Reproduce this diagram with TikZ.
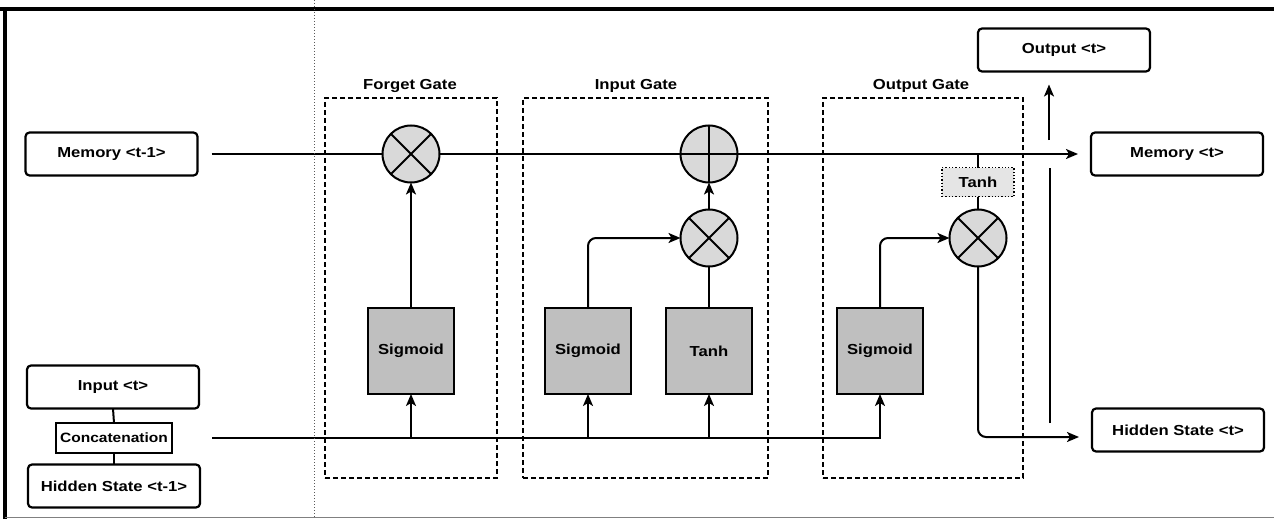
\documentclass[tikz,border=0pt]{standalone}
\usepackage{fontspec}
\setmainfont{Liberation Sans}[FakeStretch=1.15]
\usetikzlibrary{arrows.meta,backgrounds,calc}
\begin{document}
\begin{tikzpicture}[x=1pt,y=-1pt,
  every node/.style={outer sep=0pt, inner sep=0pt},
  io/.style={draw, rounded corners=4pt, line width=2.2pt, minimum width=172pt, minimum height=43pt, font=\fontsize{14.5pt}{16pt}\selectfont\bfseries},
  catbox/.style={draw, line width=1.8pt, minimum width=116pt, minimum height=30pt, font=\fontsize{13.5pt}{15pt}\selectfont\bfseries},
  act/.style={draw, fill=gray!50, line width=1.5pt, minimum width=86pt, minimum height=86pt, font=\fontsize{14.5pt}{16pt}\selectfont\bfseries},
  opnode/.style={circle, draw, fill=gray!30, line width=2pt, minimum size=57pt},
  tanhbox/.style={draw, dotted, fill=gray!20, line width=1.3pt, minimum width=72pt, minimum height=29pt, font=\fontsize{14.5pt}{16pt}\selectfont\bfseries},
  gframe/.style={draw, dash pattern=on 5pt off 3pt, line width=1.8pt},
  glabel/.style={font=\fontsize{14.5pt}{16pt}\selectfont\bfseries},
  plain/.style={line width=2pt},
  conn/.style={line width=2pt, -{Stealth[length=12pt,width=10pt,inset=3pt]}},
  opline/.style={line width=2pt}
]
\useasboundingbox (0,0) rectangle (1274,519);

% scan frame
\draw[line width=3.5pt] (0,9) -- (1274,9);
\draw[line width=3.5pt] (5,9) -- (5,519);
\draw[line width=0.8pt, gray] (5,517.5) -- (1274,517.5);
\draw[line width=1pt, dotted, gray!70!black] (314,0) -- (314,519);

% gate frames
\node[gframe, minimum width=172pt, minimum height=380pt] (fg) at (411,288) {};
\node[gframe, minimum width=245pt, minimum height=380pt] (ig) at (645.5,288) {};
\node[gframe, minimum width=200pt, minimum height=380pt] (og) at (923,288) {};
\node[glabel] (fgl) at (410,86) {Forget Gate};
\node[glabel] (igl) at (636,86) {Input Gate};
\node[glabel] (ogl) at (921,86) {Output Gate};

% io boxes
\node[io] (mem0) at (111.5,154) {Memory <t-1>};
\node[io] (inp) at (113,387) {Input <t>};
\node[catbox] (cat) at (114,438) {Concatenation};
\node[io] (hid0) at (114,486) {Hidden State <t-1>};
\node[io] (out) at (1064,50) {Output <t>};
\node[io] (mem1) at (1177,154) {Memory <t>};
\node[io] (hid1) at (1178,430) {Hidden State <t>};

% activations
\node[act] (fs) at (411,351) {Sigmoid};
\node[act] (is) at (588,351) {Sigmoid};
\node[act] (it) at (709,351) {Tanh};
\node[act] (os) at (880,351) {Sigmoid};

% operators
\node[opnode] (fx) at (411,154) {};
\node[opnode] (ip) at (709,154) {};
\node[opnode] (ix) at (709,238) {};
\node[opnode] (ox) at (978,238) {};
\node[tanhbox] (ot) at (978,182) {Tanh};

\foreach \n in {fx,ix,ox}
  \draw[opline] (\n.north east) -- (\n.south west) (\n.north west) -- (\n.south east);
\draw[opline] (ip.north) -- (ip.south) (ip.west) -- (ip.east);

\coordinate (vb) at (1050,423);
\coordinate (vt) at (1050,168);
\coordinate (ab) at (1049,140);

\begin{scope}[on background layer]
  % memory line
  \draw[conn, shorten <=14pt, shorten >=13pt] (mem0.east) -- (mem1.west);
  % left stack
  \draw[plain] (inp.south) -- (cat.north);
  \draw[plain] (cat.south) -- (hid0.north);
  % input line
  \draw[conn, shorten <=40pt] (cat.east) -- (os.south |- cat.east) -- (os.south);
  \draw[conn] (fs.south |- cat.east) -- (fs.south);
  \draw[conn] (is.south |- cat.east) -- (is.south);
  \draw[conn] (it.south |- cat.east) -- (it.south);
  % forget gate
  \draw[conn] (fs.north) -- (fx.south);
  % input gate
  \draw[conn, rounded corners=8pt] (is.north) |- (ix.west);
  \draw[plain] (it.north) -- (ix.south);
  \draw[conn] (ix.north) -- (ip.south);
  % output gate
  \draw[conn, rounded corners=8pt] (os.north) |- (ox.west);
  \draw[plain] (ot.north |- ip.center) -- (ot.north);
  \draw[plain] (ot.south) -- (ox.north);
  \draw[conn, rounded corners=8pt, shorten >=13pt] (ox.south) |- ([yshift=-7pt]hid1.west);
  % output branch
  \draw[plain] (vb) -- (vt);
  \draw[conn, line width=1.6pt, shorten >=13pt] (ab) -- (ab |- out.south);
\end{scope}
\end{tikzpicture}
\end{document}
